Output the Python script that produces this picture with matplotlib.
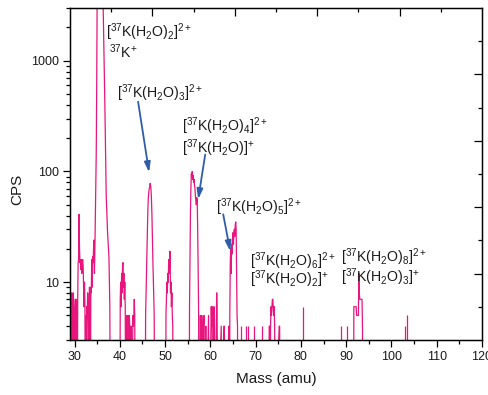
import numpy as np
import matplotlib
matplotlib.use("Agg")
import matplotlib.pyplot as plt
from matplotlib.ticker import FixedLocator, LogLocator, NullFormatter, FixedFormatter

plt.rcParams['font.family'] = ['Liberation Sans', 'DejaVu Sans']
plt.rcParams['mathtext.fontset'] = 'custom'
plt.rcParams['mathtext.rm'] = 'Liberation Sans'
plt.rcParams['mathtext.it'] = 'Liberation Sans:italic'
plt.rcParams['mathtext.bf'] = 'Liberation Sans:bold'

# ---------------- data ----------------
# clusters of the spectrum: mass (amu) and counts per second (0 = below axis)
c30_mass = [29.2, 29.3, 29.4, 29.5, 29.6, 29.7, 29.8, 29.9, 30.0, 30.1, 30.2, 30.3, 30.4, 30.5,
            30.6, 30.7, 30.8, 30.9, 31.0, 31.1, 31.2, 31.3, 31.4, 31.5, 31.6, 31.7, 31.8, 31.9,
            32.0, 32.1, 32.2, 32.3, 32.4, 32.5, 32.6, 32.7, 32.8, 32.9, 33.0, 33.1, 33.2, 33.3,
            33.4, 33.5, 33.6, 33.7, 33.8, 33.9, 34.0, 34.1, 34.2, 34.3]
c30_cps = [0, 5, 8, 4, 0, 8, 7, 5, 0, 4, 7, 0, 7, 5,
           0, 7, 15, 16, 41, 20, 15, 16, 13, 16, 12, 15, 16, 14,
           9, 6, 10, 6, 0, 5, 0, 6, 5, 8, 4, 0, 6, 9,
           7, 0, 9, 8, 16, 9, 17, 15, 20, 24]

c35_mass = [34.4, 34.5, 34.6, 34.7, 34.8, 34.9, 35.0, 35.3, 35.6, 35.9, 36.1, 36.3, 36.5,
            36.7, 36.9, 37.0, 37.2, 37.3, 37.5, 37.6, 37.7, 37.8, 37.9]
c35_cps = [12, 20, 40, 70, 150, 600, 4000, 7000, 9000, 8000, 6000, 3500, 1200,
           400, 120, 60, 35, 28, 20, 17, 10, 6, 0]

c41_mass = [40.0, 40.1, 40.2, 40.3, 40.4, 40.5, 40.6, 40.7, 40.8, 40.9, 41.0, 41.1, 41.2,
            41.3, 41.4, 41.5, 41.6, 41.7, 41.8, 41.9, 42.0, 42.1, 42.2, 42.3, 42.5, 42.6,
            42.9, 43.0, 43.1, 43.2, 43.3, 43.4]
c41_cps = [0, 7, 10, 6, 12, 8, 14, 15, 9, 12, 7, 10, 6,
           0, 4, 5, 4, 0, 5, 4, 0, 5, 4, 0, 4, 0,
           5, 4, 5, 7, 5, 0]

c47_mass = [45.6, 45.7, 45.8, 45.9, 46.0, 46.1, 46.2, 46.3, 46.4, 46.5, 46.6, 46.7, 46.8,
            46.9, 47.0, 47.1, 47.2, 47.3, 47.4, 47.5, 47.6, 47.7]
c47_cps = [0, 5, 8, 12, 20, 30, 45, 58, 65, 70, 72, 78, 75,
           68, 55, 40, 25, 16, 11, 7, 5, 0]

c51_mass = [50.1, 50.2, 50.3, 50.4, 50.5, 50.6, 50.7, 50.8, 50.9, 51.0, 51.1, 51.2, 51.3,
            51.4, 51.5, 51.6, 51.7, 51.8]
c51_cps = [0, 5, 7, 10, 8, 12, 10, 16, 12, 14, 19, 8, 10,
           6, 8, 5, 4, 0]

c56_mass = [55.3, 55.4, 55.5, 55.6, 55.7, 55.8, 55.9, 56.0, 56.1, 56.2, 56.3, 56.4, 56.5,
            56.6, 56.7, 56.8, 56.9, 57.0, 57.1, 57.2, 57.3, 57.4, 57.5]
c56_cps = [0, 6, 15, 40, 70, 95, 90, 100, 85, 92, 80, 85, 75,
           70, 60, 55, 50, 58, 55, 30, 12, 6, 0]

c60_mass = [57.7, 57.8, 57.9, 58.1, 58.2, 58.3, 58.5, 58.6, 58.7, 59.0, 59.1, 59.6, 59.7,
            60.2, 60.3, 60.4, 60.5, 60.8, 60.9, 61.0, 61.4, 61.5, 61.6, 62.4, 62.5, 63.0,
            63.1, 63.2]
c60_cps = [0, 5, 0, 5, 4, 0, 4, 5, 0, 4, 0, 5, 0,
           6, 4, 6, 0, 6, 4, 0, 8, 5, 0, 4, 0, 4,
           4, 0]

c65_mass = [64.0, 64.1, 64.2, 64.3, 64.4, 64.5, 64.6, 64.7, 64.8, 64.9, 65.0, 65.1, 65.2,
            65.3, 65.4, 65.5, 65.6, 65.7, 65.8, 65.9, 66.0, 66.1]
c65_cps = [0, 4, 0, 5, 15, 20, 12, 22, 18, 25, 28, 22, 28,
           30, 26, 33, 35, 30, 12, 5, 4, 0]

c74_mass = [72.9, 73.0, 73.1, 73.2, 73.3, 73.4, 73.5, 73.6, 73.7, 73.8, 73.9, 74.0, 74.1,
            74.2, 74.3, 75.2, 75.3, 75.4]
c74_cps = [0, 4, 4, 0, 4, 6, 5, 6, 7, 7, 6, 5, 6,
           4, 0, 4, 4, 0]

c93_mass = [91.6, 91.7, 91.8, 91.9, 92.0, 92.1, 92.2, 92.3, 92.4, 92.5, 92.6, 92.7, 92.8,
            92.9, 93.0, 93.1, 93.2, 93.3, 93.4, 93.5, 93.6, 93.7]
c93_cps = [0, 6, 6, 6, 6, 6, 6, 5, 5, 5, 5, 5, 12,
           8, 7, 7, 7, 7, 7, 7, 4, 0]

# isolated single-channel spikes
spike_mass = [66.8, 67.9, 68.3, 69.6, 71.4, 80.4, 88.9, 90.2, 102.9, 103.5]
spike_cps = [4, 4, 4, 4, 4, 6, 4, 4, 4, 5]

x_ticks = [30, 40, 50, 60, 70, 80, 90, 100, 110, 120]
y_ticks = [10, 100, 1000]
y_tick_labels = ['10', '100', '1000']

# ---------------- figure ----------------
pink = '#E8157D'
blue = '#2F5DAA'
txtc = '#1a1a1a'

fig = plt.figure(figsize=(4.89, 3.95), dpi=100)
ax = fig.add_axes([70/489, 1-340/395, (482-70)/489, (340-8)/395])

mass = np.concatenate([c30_mass, c35_mass, c41_mass, c47_mass, c51_mass, c56_mass,
                       c60_mass, c65_mass, c74_mass, c93_mass])
cps = np.concatenate([c30_cps, c35_cps, c41_cps, c47_cps, c51_cps, c56_cps,
                      c60_cps, c65_cps, c74_cps, c93_cps]).astype(float)
floor = 0.3
ax.plot(mass, np.where(cps > 0, cps, floor), color=pink, lw=0.9)
ax.vlines(spike_mass, floor, spike_cps, color=pink, lw=0.9)

ax.set_yscale('log')
ax.set_xlim(29, 120)
ax.set_ylim(3, 3000)

# top and right frame ticks (inward, unlabeled)
axr = ax.twinx()
axr.set_ylim(0, 1)
axr.yaxis.set_major_locator(FixedLocator([0.2, 0.4, 0.6, 0.8]))
axr.yaxis.set_minor_locator(FixedLocator([0.1, 0.3, 0.5, 0.7, 0.9]))
axr.tick_params(which='both', direction='in', labelright=False, left=False, width=0.9)
axr.tick_params(which='major', length=6)
axr.tick_params(which='minor', length=3)
axt = fig.add_axes(ax.get_position(), frameon=False)
axt.set_xlim(0, 1)
axt.set_ylim(0, 1)
axt.patch.set_visible(False)
axt.xaxis.set_ticks_position('top')
axt.xaxis.set_major_locator(FixedLocator([0.2, 0.4, 0.6, 0.8]))
axt.xaxis.set_minor_locator(FixedLocator([0.1, 0.3, 0.5, 0.7, 0.9]))
axt.set_yticks([])
axt.tick_params(which='both', direction='in', labeltop=False, labelbottom=False,
                bottom=False, width=0.9)
axt.tick_params(which='major', length=6)
axt.tick_params(which='minor', length=3)

ax.xaxis.set_major_locator(FixedLocator(x_ticks))
ax.xaxis.set_minor_locator(FixedLocator([t + 5 for t in x_ticks[:-1]]))
ax.yaxis.set_major_locator(FixedLocator(y_ticks))
ax.yaxis.set_major_formatter(FixedFormatter(y_tick_labels))
ax.yaxis.set_minor_locator(LogLocator(base=10, subs=np.arange(2, 10)))
ax.yaxis.set_minor_formatter(NullFormatter())
ax.tick_params(which='both', direction='out', top=False, right=False,
               labelsize=9, labelcolor=txtc, width=0.9)
ax.tick_params(which='major', length=5, pad=3)
ax.tick_params(which='minor', length=3)

for s in ax.spines.values():
    s.set_linewidth(1.0)

ax.set_xlabel('Mass (amu)', fontsize=11, color=txtc)
ax.xaxis.set_label_coords(0.5, -0.095)
ax.set_ylabel('CPS', fontsize=11, color=txtc)
ax.yaxis.set_label_coords(-0.11, 0.455)

# annotations
fs = 10.2
labels = [
    (r'[$^{37}$K(H$_2$O)$_2$]$^{2+}$', 36.97, 1824),
    (r'$^{37}$K$^{+}$', 37.63, 1205),
    (r'[$^{37}$K(H$_2$O)$_3$]$^{2+}$', 39.40, 505),
    (r'[$^{37}$K(H$_2$O)$_4$]$^{2+}$', 53.77, 259),
    (r'[$^{37}$K(H$_2$O)]$^{+}$', 53.77, 161),
    (r'[$^{37}$K(H$_2$O)$_5$]$^{2+}$', 61.2, 47.4),
    (r'[$^{37}$K(H$_2$O)$_6$]$^{2+}$', 68.7, 15.5),
    (r'[$^{37}$K(H$_2$O)$_2$]$^{+}$', 68.7, 10.6),
    (r'[$^{37}$K(H$_2$O)$_8$]$^{2+}$', 88.8, 16.8),
    (r'[$^{37}$K(H$_2$O)$_3$]$^{+}$', 88.8, 11.1),
]
for t, x, y in labels:
    ax.text(x, y, t, fontsize=fs, color=txtc, ha='left', va='center', zorder=5)

arrows = [((44.04, 427), (46.47, 98)),
          ((58.86, 142), (57.31, 56)),
          ((62.84, 41), (64.39, 19))]
for (x0, y0), (x1, y1) in arrows:
    ax.annotate('', xy=(x1, y1), xytext=(x0, y0),
                arrowprops=dict(arrowstyle='-|>,head_length=0.6,head_width=0.18',
                                color=blue, lw=1.3, shrinkA=0, shrinkB=0))

fig.savefig('out.png', dpi=100)
